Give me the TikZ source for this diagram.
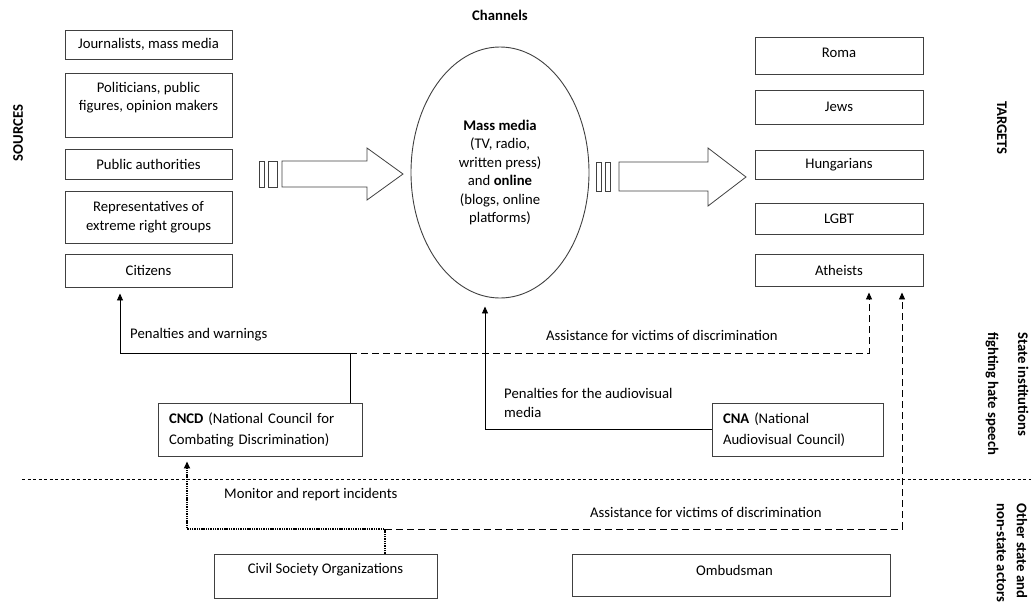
\documentclass[tikz,border=0pt]{standalone}
\usepackage{fontspec}
\setmainfont{Carlito}
\usetikzlibrary{arrows.meta,shapes.geometric}
\begin{document}
\begin{tikzpicture}[x=1pt,y=-1pt,
  every node/.style={font=\fontsize{14.7}{18.5}\selectfont, inner sep=0pt},
  box/.style={draw=black!75, line width=0.9pt, rectangle, align=center},
  lbox/.style={box, align=left, inner xsep=11pt, font=\fontsize{14.7}{21}\selectfont},
  lbl/.style={anchor=west},
  side/.style={font=\fontsize{14.7}{16}\selectfont\bfseries, align=left},
  conn/.style={line width=0.9pt, -{Triangle[length=7pt,width=6pt]}},
  dconn/.style={conn, dash pattern=on 7pt off 4pt},
  dotconn/.style={conn, line width=2pt, dash pattern=on 1.4pt off 0.9pt},
  hollow/.style={draw=black!75, line width=0.8pt}
]
\useasboundingbox (0,0) rectangle (1031,603);

% side labels
\node[side, rotate=90] (sources) at (18,133) {SOURCES};
\node[side, rotate=-90] (targets) at (1002,128) {TARGETS};
\node[side] (channels) at (500,15) {Channels};
\node[side, rotate=-90, anchor=west] (state) at (1007,332) {State institutions\\[14pt]fighting hate speech};
\node[side, rotate=-90, anchor=west] (other) at (1012,503) {Other state and\\[4pt]non-state actors};

% sources
\node[box, minimum width=167pt, minimum height=29pt] (jour) at (148.5,44.5) {Journalists, mass media};
\node[box, minimum width=167pt, minimum height=64pt] (pol) at (148.5,105) {};
\node[align=center] (poltext) at (148.5,97.5) {Politicians, public\\figures, opinion makers};
\node[box, minimum width=167pt, minimum height=30pt] (pub) at (148.5,164) {Public authorities};
\node[box, minimum width=167pt, minimum height=52pt] (rep) at (148.5,217) {Representatives of\\extreme right groups};
\node[box, minimum width=167pt, minimum height=33pt] (cit) at (148.5,270.5) {Citizens};

% targets
\node[box, minimum width=168pt, minimum height=37pt] (roma) at (839,55.5) {};
\node (romatext) at (839,52.5) {Roma};
\node[box, minimum width=168pt, minimum height=34pt] (jews) at (839,107) {Jews};
\node[box, minimum width=168pt, minimum height=29pt] (hung) at (839,164.5) {Hungarians};
\node[box, minimum width=168pt, minimum height=31pt] (lgbt) at (839,218.5) {LGBT};
\node[box, minimum width=168pt, minimum height=32pt] (ath) at (839,270) {Atheists};

% channels ellipse
\node[draw=black!75, line width=0.9pt, ellipse, minimum width=178pt, minimum height=251pt, align=center] (media) at (500,172.5)
  {\textbf{Mass media}\\(TV, radio,\\written press)\\and \textbf{online}\\(blogs, online\\platforms)};

% hollow arrows
\draw[hollow] (259,161) rectangle (264.5,187);
\draw[hollow] (268,161) rectangle (277,187);
\draw[hollow] (282,161) -- (367,161) -- (367,148) -- (403,174) -- (367,200) -- (367,187) -- (282,187) -- cycle;
\draw[hollow] (596,162) rectangle (601,191);
\draw[hollow] (605,162) rectangle (610,191);
\draw[hollow] (619,162) -- (708,162) -- (708,148) -- (746,177) -- (708,206) -- (708,191) -- (619,191) -- cycle;

% state institutions
\node[lbox, text width=182pt, minimum height=53pt] (cncd) at (260,429.5) {\textbf{CNCD} (National Council for\\Combating Discrimination)};
\node[lbox, text width=149pt, minimum height=53pt] (cna) at (797.5,429.5) {\textbf{CNA} (National\\Audiovisual Council)};

% other actors
\node[box, minimum width=223pt, minimum height=44pt] (cso) at (325.5,576) {};
\node (csotext) at (325.5,570) {Civil Society Organizations};
\node[box, minimum width=318pt, minimum height=42pt] (omb) at (731,575) {};
\node (ombtext) at (734.5,570) {Ombudsman};

% separator
\coordinate (s1) at (22,479);
\coordinate (s2) at (1031,479);
\draw[line width=0.8pt, dash pattern=on 3pt off 2.5pt] (s1) -- (s2);

% connectors
\coordinate (j1) at (350,353);
\coordinate (pw) at (120,353);
\draw[conn, shorten >=6pt] (cncd.north -| j1) -- (j1) -- (pw) -- (pw |- cit.south);
\coordinate (a1) at (869,353);
\draw[dconn, shorten >=6pt] (j1) -- (a1) -- (a1 |- ath.south);
\coordinate (m1) at (485,429.5);
\draw[conn, shorten >=8pt] (cna.west) -- (m1) -- (m1 |- media.south);
\coordinate (c1) at (385,529);
\coordinate (c2) at (187,529);
\draw[dotconn, shorten >=5pt] (cso.north -| c1) -- (c1) -- (c2) -- (c2 |- cncd.south);
\coordinate (a2) at (902,529);
\draw[dconn, shorten >=6pt] (c1) -- (a2) -- (a2 |- ath.south);

% connector labels
\node[lbl] (lpw) at (130,335) {Penalties and warnings};
\node[lbl] (las1) at (546,335) {Assistance for victims of discrimination};
\node[lbl, align=left] (lpa) at (504,403) {Penalties for the audiovisual\\media};
\node[lbl] (lmon) at (224,495) {Monitor and report incidents};
\node[lbl] (las2) at (590,512) {Assistance for victims of discrimination};
\end{tikzpicture}
\end{document}
